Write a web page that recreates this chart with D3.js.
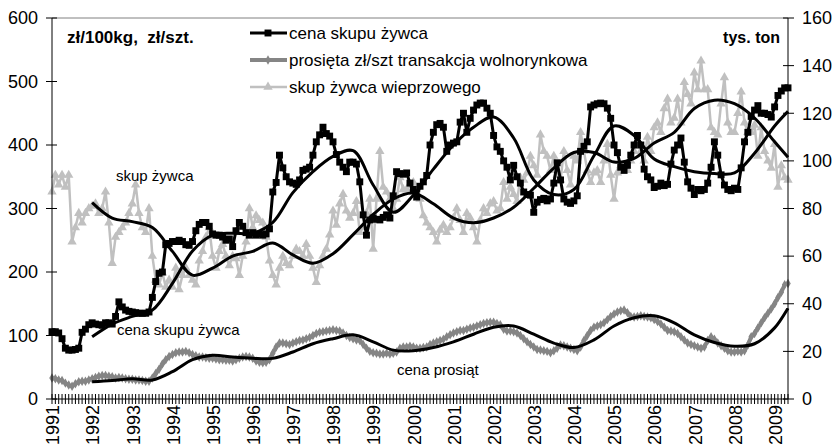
<!DOCTYPE html>
<html>
<head>
<meta charset="utf-8">
<script src="https://cdn.jsdelivr.net/npm/d3@7.9.0/dist/d3.min.js"></script>
<style>
  body { margin: 0; background: #fff; }
  svg { font-family: "Liberation Sans", Arial, sans-serif; }
</style>
</head>
<body>
<svg id="chart" width="837" height="448"></svg>
<script>
// monthly data, Jan 1991 .. May 2009
const cenaSkupu = [
  106,106,104,95,80,77,77,78,80,105,110,117,
  120,118,117,116,120,120,118,130,153,145,140,138,
  137,136,135,135,135,137,160,185,198,200,243,245,
  248,248,250,248,243,242,248,265,275,278,278,272,
  260,258,258,255,250,252,240,265,278,272,262,258,
  262,258,260,258,260,268,326,341,384,364,350,342,
  340,338,345,360,362,365,384,405,416,428,418,414,
  405,385,373,365,358,373,373,370,342,290,258,282,
  285,283,282,286,290,285,320,358,355,354,356,340,
  330,318,335,342,352,400,420,432,434,428,390,400,
  403,405,436,450,420,442,455,463,466,466,458,450,
  415,397,390,375,365,345,368,350,340,326,322,321,
  294,310,314,316,312,315,340,372,345,315,310,308,
  312,320,390,398,405,460,463,465,466,465,458,442,
  400,388,365,360,368,384,400,415,400,362,350,345,
  333,335,340,336,338,370,392,400,411,373,342,332,
  322,330,328,330,340,365,405,384,353,337,330,328,
  332,330,364,405,420,445,455,462,450,450,448,444,
  460,478,485,490,490
];
const prosieta = [
  33,32,30,29,25,22,20,24,27,28,28,30,
  32,34,36,37,37,36,35,33,34,33,32,31,
  31,30,30,29,28,28,33,40,47,55,62,67,
  70,73,74,74,75,73,70,68,66,66,65,64,
  64,63,62,62,61,61,60,62,64,66,67,66,
  64,60,58,57,58,62,72,82,88,88,87,86,
  88,90,92,93,95,97,100,103,105,106,107,108,
  109,108,107,104,100,97,95,93,92,86,80,75,
  73,72,71,71,72,71,72,74,80,82,82,83,
  82,80,80,81,82,86,88,90,92,94,98,101,
  104,106,108,108,110,112,113,115,117,119,120,121,
  121,119,117,110,107,107,106,104,100,95,90,86,
  82,78,77,76,75,73,76,80,85,84,82,80,
  78,76,82,92,100,108,113,115,117,120,125,130,
  134,137,139,140,136,130,129,130,131,130,129,128,
  125,122,118,113,108,107,106,103,98,93,88,86,
  84,82,80,82,92,98,94,88,84,80,76,74,
  74,75,74,76,85,98,103,112,120,128,135,142,
  150,160,168,180,182
];
// tys. ton (right axis)
const skupZywca = [
  87,94,90,94,89,94,66,72,78,74,78,80,
  81,82,78,80,87,74,57,68,70,72,74,78,
  82,90,78,72,70,80,60,50,48,53,47,50,
  47,55,46,52,55,52,50,48,58,62,68,72,
  60,55,62,65,60,56,60,59,52,60,66,80,
  72,77,75,74,68,58,52,48,55,60,57,56,
  60,63,62,60,65,60,55,49,56,60,63,69,
  79,73,82,86,79,76,78,83,70,72,78,84,
  63,84,104,89,87,84,80,84,93,88,88,90,
  91,88,84,77,74,72,70,66,71,73,70,72,
  76,80,75,70,78,76,72,66,75,80,78,82,
  83,79,80,91,84,89,86,83,93,92,95,102,
  98,94,111,104,102,96,102,94,92,104,96,90,
  102,100,112,104,96,91,95,96,91,100,107,94,
  84,95,98,98,96,100,104,108,104,100,110,104,
  114,116,112,122,126,116,118,126,116,133,128,124,
  137,130,142,130,130,114,112,111,124,135,116,112,
  112,120,129,116,112,112,115,102,114,104,100,97,
  107,89,98,93,92
];

// smoothed trends, every 6 months from Jan 1992
const trendMonths = [12,18,24,30,36,42,48,54,60,66,72,78,84,90,96,102,108,114,120,126,132,138,144,150,156,162,168,174,180,186,192,198,204,210,216,220];
const trendCena = [98,118,130,140,182,233,258,261,261,278,325,358,382,391,337,294,321,362,400,428,444,411,345,322,330,383,430,415,378,366,358,355,356,387,430,453];
const trendSkup = [82.5,76,74.5,72,62,52,55,60,62,65.5,60.5,57,61,69,77.5,84,86.5,82,76,74,76,80.5,88.5,97,103.5,103.5,99.5,101,107.5,112,122,125.5,124,118,108,101.5];
const trendProsieta = [27,29,32,30,43,62,69,66,64,64,74,87,95,101,90,77,76,81,90,102,113,115,102,88,81,93,115,128,131,120,101,89,83,87,112,143];

const years = d3.range(1991, 2010);
const leftTicks = [0,100,200,300,400,500,600];
const rightTicks = [0,20,40,60,80,100,120,140,160];

const svg = d3.select('#chart');
const x = d3.scaleLinear().domain([0, cenaSkupu.length - 1]).range([52, 788]);
const yL = d3.scaleLinear().domain([0, 600]).range([399, 18]);
const yR = d3.scaleLinear().domain([0, 160]).range([399, 18]);

// frame
svg.append('line').attr('x1', 52).attr('x2', 788).attr('y1', 18).attr('y2', 18)
  .attr('stroke', '#808080').attr('stroke-width', 1);

// series
const lineL = d3.line().x((d, i) => x(i)).y(d => yL(d));
const lineR = d3.line().x((d, i) => x(i)).y(d => yR(d));

function drawSeries(values, line, yScale, color, width, symType, symSize) {
  svg.append('path').attr('d', line(values))
    .attr('fill', 'none').attr('stroke', color).attr('stroke-width', width)
    .attr('stroke-linejoin', 'round');
  const sym = d3.symbol().type(symType).size(symSize);
  svg.append('g').selectAll('path').data(values).join('path')
    .attr('d', sym)
    .attr('transform', (d, i) => `translate(${x(i)},${yScale(d)})`)
    .attr('fill', color);
}

drawSeries(skupZywca, lineR, yR, '#c0c0c0', 2.5, d3.symbolTriangle, 38);
drawSeries(prosieta, lineL, yL, '#858585', 4, d3.symbolDiamond, 26);
drawSeries(cenaSkupu, lineL, yL, '#000', 3, d3.symbolSquare, 48);

// trends
const trendLine = (ys) => d3.line()
  .x((d, i) => x(trendMonths[i]))
  .y(d => ys(d))
  .curve(d3.curveCatmullRom);

[[trendCena, yL], [trendSkup, yR], [trendProsieta, yL]].forEach(([vals, ys]) => {
  svg.append('path').attr('d', trendLine(ys)(vals))
    .attr('fill', 'none').attr('stroke', '#000').attr('stroke-width', 3);
});

// axes
svg.append('line').attr('x1', 52).attr('x2', 52).attr('y1', 18).attr('y2', 399).attr('stroke', '#000');
svg.append('line').attr('x1', 788).attr('x2', 788).attr('y1', 18).attr('y2', 399).attr('stroke', '#000');
svg.append('line').attr('x1', 52).attr('x2', 788).attr('y1', 399).attr('y2', 399).attr('stroke', '#000');

svg.append('g').selectAll('line').data(d3.range(cenaSkupu.length)).join('line')
  .attr('x1', d => x(d)).attr('x2', d => x(d))
  .attr('y1', 394).attr('y2', 404)
  .attr('stroke', '#000').attr('stroke-width', 1);

const lt = svg.append('g');
lt.selectAll('line').data(leftTicks).join('line')
  .attr('x1', 46).attr('x2', 57).attr('y1', d => yL(d)).attr('y2', d => yL(d)).attr('stroke', '#000');
lt.selectAll('text').data(leftTicks).join('text')
  .attr('x', 38).attr('y', d => yL(d)).attr('dy', '0.35em')
  .attr('text-anchor', 'end').attr('font-size', 18).text(d => d);

const rt = svg.append('g');
rt.selectAll('line').data(rightTicks).join('line')
  .attr('x1', 783).attr('x2', 794).attr('y1', d => yR(d)).attr('y2', d => yR(d)).attr('stroke', '#000');
rt.selectAll('text').data(rightTicks).join('text')
  .attr('x', 802).attr('y', d => yR(d)).attr('dy', '0.35em')
  .attr('font-size', 18).text(d => d);

svg.append('g').selectAll('text').data(years).join('text')
  .attr('transform', d => `translate(${x((d - 1991) * 12) + 1},405) rotate(-90)`)
  .attr('dy', '0.35em').attr('text-anchor', 'end')
  .attr('font-size', 18).text(d => d);

// unit labels
svg.append('text').attr('x', 67).attr('y', 43).attr('font-size', 17).attr('font-weight', 'bold')
  .style('white-space', 'pre').text('zł/100kg,  zł/szt.');
svg.append('text').attr('x', 780).attr('y', 43).attr('font-size', 16).attr('font-weight', 'bold')
  .attr('text-anchor', 'end').text('tys. ton');

// annotations
svg.append('text').attr('x', 116).attr('y', 181).attr('font-size', 15).text('skup żywca');
svg.append('text').attr('x', 117).attr('y', 335).attr('font-size', 15).text('cena skupu żywca');
svg.append('text').attr('x', 397).attr('y', 375).attr('font-size', 15).text('cena prosiąt');

// legend
const legendItems = [
  { label: 'cena skupu żywca', color: '#000', sym: d3.symbolSquare, size: 48, w: 3 },
  { label: 'prosięta zł/szt transakcja wolnorynkowa', color: '#858585', sym: d3.symbolDiamond, size: 26, w: 4 },
  { label: 'skup żywca wieprzowego', color: '#c0c0c0', sym: d3.symbolTriangle, size: 38, w: 2.5 }
];
const lg = svg.append('g');
legendItems.forEach((d, i) => {
  const yy = 33 + i * 27;
  lg.append('line').attr('x1', 250).attr('x2', 287).attr('y1', yy).attr('y2', yy)
    .attr('stroke', d.color).attr('stroke-width', d.w);
  lg.append('path').attr('d', d3.symbol().type(d.sym).size(d.size)())
    .attr('transform', `translate(268,${yy})`).attr('fill', d.color);
  lg.append('text').attr('x', 289).attr('y', yy).attr('dy', '0.35em')
    .attr('font-size', 17).text(d.label);
});
</script>
</body>
</html>
